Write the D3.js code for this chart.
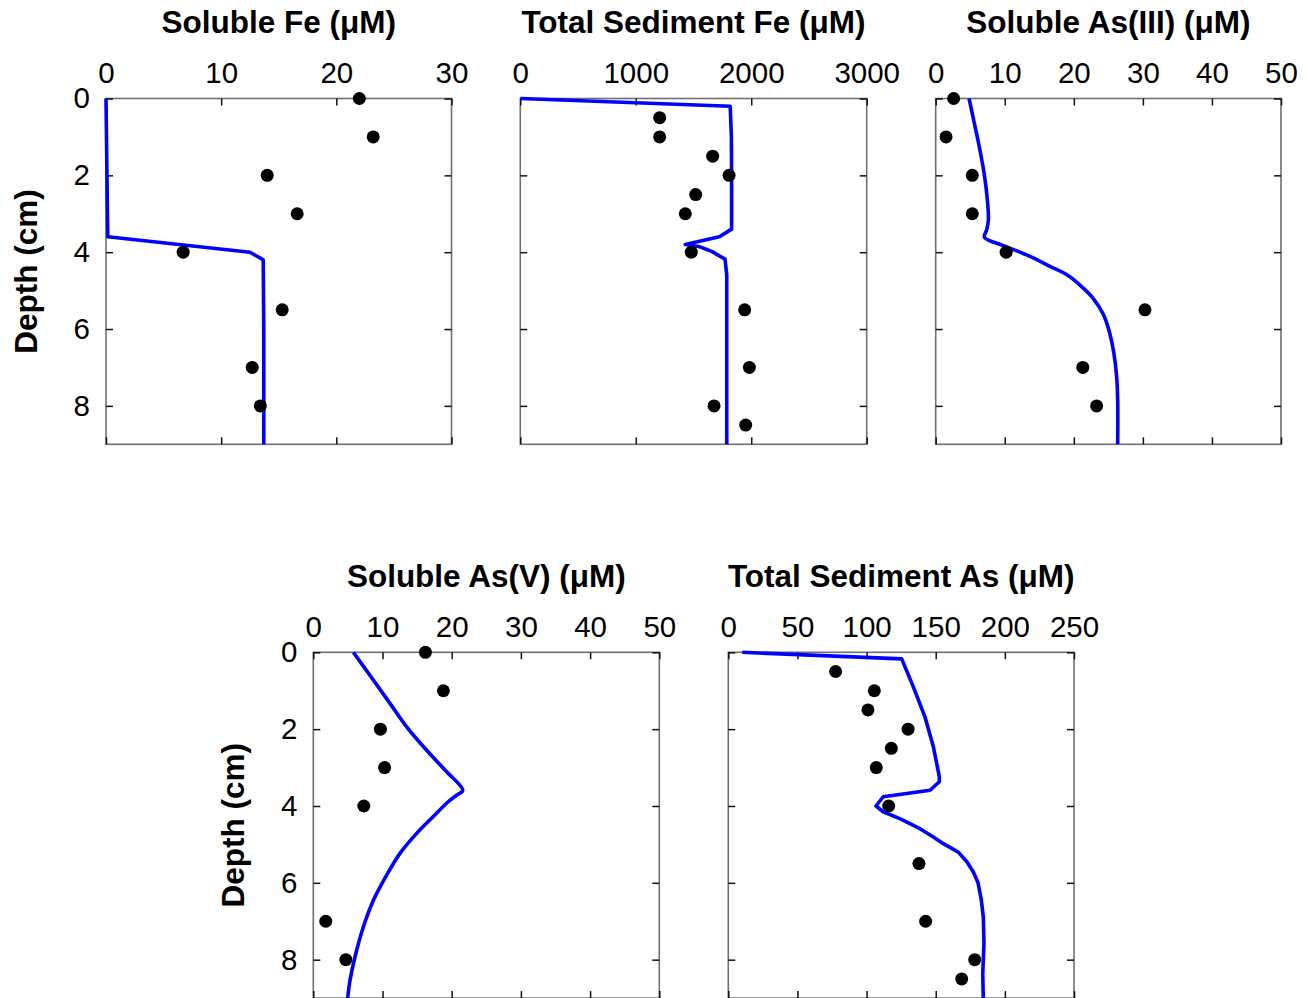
<!DOCTYPE html>
<html><head><meta charset="utf-8">
<script src="https://cdn.jsdelivr.net/npm/d3@7"></script>
<style>
html,body{margin:0;padding:0;background:#fff;}
svg{display:block;}
text{font-family:"Liberation Sans",Arial,Helvetica,sans-serif;fill:#000;}
</style></head>
<body>
<svg id="chart" width="1305" height="998"></svg>
<script>
// ---------- Data ----------
const depthTicks = [0, 2, 4, 6, 8];

// Soluble Fe
const feSolObsDepth = [0, 1, 2, 3, 4, 5.5, 7, 8];
const feSolObs      = [22.0, 23.2, 14.0, 16.6, 6.7, 15.3, 12.7, 13.4];
const feSolModDepth = [0, 3.6, 4.0, 4.2, 6, 9];
const feSolMod      = [0, 0.15, 12.5, 13.65, 13.7, 13.7];
const feSolTicks    = [0, 10, 20, 30];

// Total sediment Fe
const feSedObsDepth = [0.5, 1, 1.5, 2, 2.5, 3, 4, 5.5, 7, 8, 8.5];
const feSedObs      = [1207, 1207, 1666, 1808, 1519, 1429, 1481, 1943, 1984, 1678, 1952];
const feSedModDepth = [0, 0.2, 1, 2, 3.4, 3.6, 3.8, 3.86, 3.98, 4.18, 4.6, 9];
const feSedMod      = [0, 1818, 1828, 1830, 1830, 1724, 1429, 1556, 1657, 1773, 1788, 1788];
const feSedTicks    = [0, 1000, 2000, 3000];

// Soluble As(III)
const as3ObsDepth = [0, 1, 2, 3, 4, 5.5, 7, 8];
const as3Obs      = [2.6, 1.5, 5.3, 5.3, 10.2, 30.3, 21.3, 23.3];
const as3ModDepth = [0, 0.73, 1.34, 1.99, 2.64, 3.16, 3.42, 3.61, 3.83, 4.11, 4.37, 4.59, 4.94, 5.2, 5.63, 6.11, 6.63, 7.24, 7.85, 9];
const as3Mod      = [4.83, 5.7, 6.4, 7.05, 7.48, 7.63, 7.38, 7.05, 9.8, 13.66, 16.55, 19.0, 21.4, 22.8, 24.3, 25.2, 25.8, 26.2, 26.35, 26.35];
const as3Ticks    = [0, 10, 20, 30, 40, 50];

// Soluble As(V)
const as5ObsDepth = [0, 1, 2, 3, 4, 7, 8];
const as5Obs      = [16.2, 18.8, 9.7, 10.3, 7.3, 1.8, 4.7];
const as5ModDepth = [0, 0.72, 1.33, 1.94, 2.55, 3.11, 3.59, 3.72, 3.89, 4.28, 4.72, 5.24, 5.8, 6.46, 7.15, 7.93, 8.54, 9];
const as5Mod      = [5.78, 8.67, 11.08, 13.49, 16.38, 19.27, 21.6, 20.7, 19.5, 17.3, 14.9, 12.5, 10.6, 8.67, 7.23, 6.02, 5.3, 4.97];
const as5Ticks    = [0, 10, 20, 30, 40, 50];

// Total sediment As
const asSedObsDepth = [0.5, 1, 1.5, 2, 2.5, 3, 4, 5.5, 7, 8, 8.5];
const asSedObs      = [77.6, 105.6, 101, 130, 117.9, 107, 116, 137.9, 142.7, 178.2, 168.8];
const asSedModDepth = [0, 0.17, 0.9, 1.68, 2.46, 3.0, 3.24, 3.37, 3.59, 3.76, 4.0, 4.15, 4.33, 4.59, 4.8, 4.98, 5.2, 5.45, 5.72, 6.0, 6.45, 6.89, 7.58, 8.37, 9];
const asSedMod      = [10.1, 125.4, 133.8, 142.2, 148.3, 151.3, 152.6, 152.6, 145.9, 112, 106.8, 112, 124, 138.6, 148, 155.5, 166.3, 172.5, 177.2, 180.6, 183, 184.4, 184.9, 184, 184.4];
const asSedTicks    = [0, 50, 100, 150, 200, 250];

const titles = ["Soluble Fe (\u03bcM)", "Total Sediment Fe (\u03bcM)", "Soluble As(III) (\u03bcM)",
                "Soluble As(V) (\u03bcM)", "Total Sediment As (\u03bcM)"];
const depthLabel = "Depth (cm)";

// ---------- Layout ----------
const svg = d3.select("#chart");
const rowTop = [98.5, 652.3];
const panelH = 345.8;
const smooth = d3.curveCatmullRom.alpha(0.5);
const panels = [
  {x0: 106,   x1: 451.5, row: 0, xt: feSolTicks, obsX: feSolObs, obsD: feSolObsDepth, modX: feSolMod, modD: feSolModDepth, title: titles[0], yLab: true,  curve: d3.curveLinear},
  {x0: 520.3, x1: 866.7, row: 0, xt: feSedTicks, obsX: feSedObs, obsD: feSedObsDepth, modX: feSedMod, modD: feSedModDepth, title: titles[1], yLab: false, curve: d3.curveLinear},
  {x0: 935.7, x1: 1281,  row: 0, xt: as3Ticks,   obsX: as3Obs,   obsD: as3ObsDepth,   modX: as3Mod,   modD: as3ModDepth,   title: titles[2], yLab: false, curve: smooth},
  {x0: 313.3, x1: 659.3, row: 1, xt: as5Ticks,   obsX: as5Obs,   obsD: as5ObsDepth,   modX: as5Mod,   modD: as5ModDepth,   title: titles[3], yLab: true,  curve: smooth},
  {x0: 728.3, x1: 1074,  row: 1, xt: asSedTicks, obsX: asSedObs, obsD: asSedObsDepth, modX: asSedMod, modD: asSedModDepth, title: titles[4], yLab: false, curve: d3.curveLinear}
];

const tickFont = 29.5, titleFont = 31.5;

panels.forEach(p => {
  const top = rowTop[p.row], bot = top + panelH;
  const x = d3.scaleLinear().domain([p.xt[0], p.xt[p.xt.length-1]]).range([p.x0, p.x1]);
  const y = d3.scaleLinear().domain([0, 9]).range([top, bot]);
  const g = svg.append("g");

  // frame
  g.append("rect").attr("x", p.x0).attr("y", top).attr("width", p.x1 - p.x0).attr("height", bot - top)
    .attr("fill", "none").attr("stroke", "#707070").attr("stroke-width", 1.6);

  const styleAxis = sel => {
    sel.select(".domain").remove();
    sel.selectAll(".tick line").attr("stroke", "#111").attr("stroke-width", 1.5);
    sel.selectAll("text").style("font-size", tickFont + "px").attr("fill", "#000");
  };

  g.append("g").attr("transform", `translate(0,${top})`)
    .call(d3.axisTop(x).tickValues(p.xt).tickSize(-7).tickPadding(15.5).tickFormat(d3.format("d")))
    .call(styleAxis);
  g.append("g").attr("transform", `translate(0,${bot})`)
    .call(d3.axisBottom(x).tickValues(p.xt).tickSize(-7).tickFormat(""))
    .call(styleAxis);
  g.append("g").attr("transform", `translate(${p.x0},0)`)
    .call(d3.axisLeft(y).tickValues(depthTicks).tickSize(-7).tickPadding(16).tickFormat(p.yLab ? d3.format("d") : ""))
    .call(styleAxis);
  g.append("g").attr("transform", `translate(${p.x1},0)`)
    .call(d3.axisRight(y).tickValues(depthTicks).tickSize(-7).tickFormat(""))
    .call(styleAxis);

  // title
  g.append("text").attr("x", (p.x0 + p.x1) / 2).attr("y", top - 65.5)
    .attr("text-anchor", "middle").style("font-size", titleFont + "px").style("font-weight", "bold")
    .text(p.title);

  if (p.yLab) {
    g.append("text")
      .attr("transform", `translate(${p.x0 - 69},${(top + bot) / 2}) rotate(-90)`)
      .attr("text-anchor", "middle").style("font-size", titleFont + "px").style("font-weight", "bold")
      .text(depthLabel);
  }

  // model line
  const line = d3.line().x(d => x(d[0])).y(d => y(d[1])).curve(p.curve);
  g.append("path").datum(p.modX.map((v, i) => [v, p.modD[i]]))
    .attr("d", line).attr("fill", "none").attr("stroke", "#0000ff").attr("stroke-width", 3.6)
    .attr("stroke-linejoin", "round");

  // observations
  g.selectAll("circle.obs").data(p.obsX.map((v, i) => [v, p.obsD[i]])).enter()
    .append("circle").attr("class", "obs")
    .attr("cx", d => x(d[0])).attr("cy", d => y(d[1])).attr("r", 6.5).attr("fill", "#000");
});
</script>
</body></html>
